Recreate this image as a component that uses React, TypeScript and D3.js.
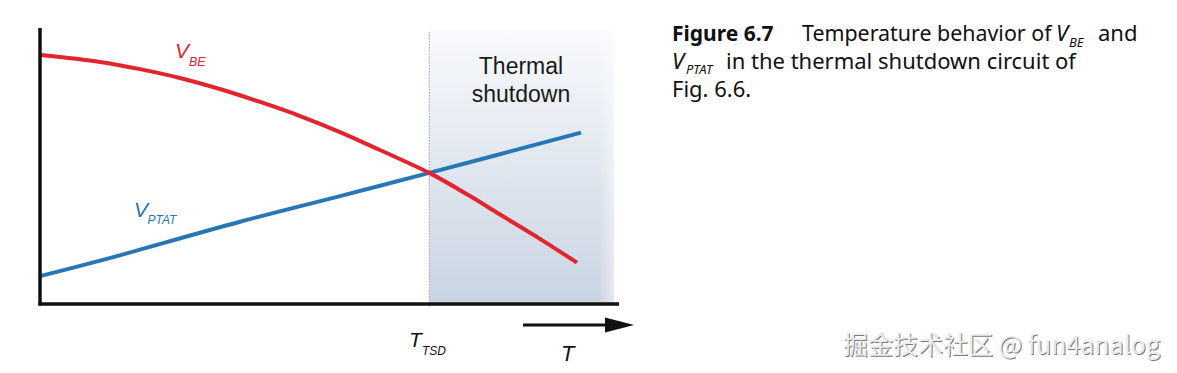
import React from "react";
import * as d3 from "d3";

// Normalised temperature (x) and voltage (y) readings of the two curves
const vbeTemp = [0.1, 10.4, 17.3, 24.2, 31.1, 38.1, 45.0, 51.9, 58.8, 67.35, 74.4, 79.6, 86.5, 92.9];
const vbeVolt = [90.2, 87.7, 85.1, 81.9, 77.9, 73.2, 68.1, 62.3, 55.8, 47.5, 39.1, 32.4, 23.6, 15.0];
const ptatTemp = [0, 10.4, 34.6, 51.9, 67.35, 93.6];
const ptatVolt = [10.1, 15.7, 29.8, 39.1, 47.5, 62.1];
const tsdTemp = 67.35;
const shadeEnd = 99.3;
const shadeTop = 99.3;

const W = 1177;
const H = 373;

export default function App() {
  const x = d3.scaleLinear().domain([0, 100]).range([40, 618]);
  const y = d3.scaleLinear().domain([0, 100]).range([304, 28]);

  const line = d3
    .line<[number, number]>()
    .x((d) => x(d[0]))
    .y((d) => y(d[1]))
    .curve(d3.curveCatmullRom.alpha(0.5));

  const vbe = vbeTemp.map((t, i) => [t, vbeVolt[i]] as [number, number]);
  const ptat = ptatTemp.map((t, i) => [t, ptatVolt[i]] as [number, number]);

  const chartFont = "'Liberation Sans', Arial, sans-serif";
  const capFont = "'Noto Sans', 'Open Sans', sans-serif";
  const red = "#e2252d";
  const blue = "#2777b7";

  return (
    <svg
      width={W}
      height={H}
      style={{ position: "absolute", left: 0, top: 0, display: "block", background: "#fff" }}
    >
      <defs>
        <linearGradient id="shadeV" x1="0" y1="0" x2="0" y2="1">
          <stop offset="0%" stopColor="#f9fafc" />
          <stop offset="45%" stopColor="#e2e8f0" />
          <stop offset="100%" stopColor="#c9d4e2" />
        </linearGradient>
        <linearGradient id="shadeH" x1="0" y1="0" x2="1" y2="0">
          <stop offset="0%" stopColor="#ffffff" stopOpacity="0" />
          <stop offset="92%" stopColor="#ffffff" stopOpacity="0" />
          <stop offset="100%" stopColor="#ffffff" stopOpacity="0.5" />
        </linearGradient>
      </defs>

      {/* shaded thermal shutdown region */}
      <rect
        x={x(tsdTemp)}
        y={y(shadeTop)}
        width={x(shadeEnd) - x(tsdTemp)}
        height={y(0) - y(shadeTop)}
        fill="url(#shadeV)"
      />
      <rect
        x={x(tsdTemp)}
        y={y(shadeTop)}
        width={x(shadeEnd) - x(tsdTemp)}
        height={y(0) - y(shadeTop)}
        fill="url(#shadeH)"
      />

      {/* dotted TSD marker */}
      <line
        x1={x(tsdTemp)}
        x2={x(tsdTemp)}
        y1={y(98.5)}
        y2={y(-1.5)}
        stroke="#9a9a9a"
        strokeWidth={1}
        strokeDasharray="1.5,1.5"
      />

      {/* curves */}
      <path d={line(ptat) || ""} fill="none" stroke={blue} strokeWidth={4} />
      <path d={line(vbe) || ""} fill="none" stroke={red} strokeWidth={4} />

      {/* axes */}
      <line x1={x(0)} x2={x(0)} y1={y(100)} y2={y(0) + 1.5} stroke="#111" strokeWidth={3.5} />
      <line x1={x(0) - 1.5} x2={x(100) + 1} y1={y(0)} y2={y(0)} stroke="#111" strokeWidth={3.5} />

      {/* T arrow */}
      <line x1={523} x2={610} y1={325} y2={325} stroke="#111" strokeWidth={3} />
      <path d="M605,317.5 L634,325 L605,332.5 Z" fill="#111" />

      {/* curve labels */}
      <g fontFamily={chartFont} fontStyle="italic">
        <text x={175} y={57.5} fontSize={21} fill={red}>
          V<tspan x={189} y={66} fontSize={12.5}>BE</tspan>
        </text>
        <text x={134} y={216.5} fontSize={21} fill={blue}>
          V<tspan x={147.5} y={223.5} fontSize={12}>PTAT</tspan>
        </text>
        <text x={409} y={347} fontSize={21} fill="#111">
          T<tspan x={422} y={355} fontSize={12}>TSD</tspan>
        </text>
        <text x={561} y={361} fontSize={22} fill="#111">T</text>
      </g>

      <g fontFamily={chartFont} fontSize={23} fill="#1a1a1a" textAnchor="middle">
        <text x={521} y={74}>Thermal</text>
        <text x={521} y={101.5}>shutdown</text>
      </g>

      {/* caption */}
      <g fontFamily={capFont} fill="#111" fontSize={22}>
        <text x={672} y={41} fontSize={21} fontWeight="bold">Figure 6.7</text>
        <text x={802} y={41} fontSize={21.4}>Temperature behavior of</text>
        <text x={1056} y={41} fontStyle="italic">
          V<tspan x={1069} y={47} fontSize={13}>BE</tspan>
        </text>
        <text x={1098} y={41}>and</text>
        <text x={672} y={69} fontStyle="italic">
          V<tspan x={686} y={74} fontSize={13}>PTAT</tspan>
        </text>
        <text x={726} y={69}>in the thermal shutdown circuit of</text>
        <text x={672} y={97}>Fig. 6.6.</text>
      </g>

      {/* watermark */}
      <g fontFamily="'Noto Sans CJK SC', 'Noto Sans', sans-serif" fontSize={25}>
        <text x={844} y={355} fill="#7a7a7a">掘金技术社区 @ fun4analog</text>
        <text x={843} y={354} fill="#ececec">掘金技术社区 @ fun4analog</text>
      </g>
    </svg>
  );
}
